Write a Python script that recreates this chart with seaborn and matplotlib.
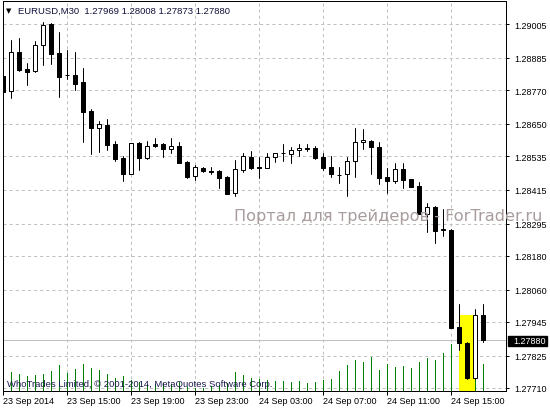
import matplotlib
matplotlib.use("Agg")
import numpy as np
import pandas as pd
import matplotlib.pyplot as plt
from matplotlib.patches import Rectangle
import seaborn as sns

# ---------------- data ----------------
symbol = "EURUSD,M30"
x_tick_labels = ["23 Sep 2014", "23 Sep 15:00", "23 Sep 19:00", "23 Sep 23:00",
                 "24 Sep 03:00", "24 Sep 07:00", "24 Sep 11:00", "24 Sep 15:00"]
x_tick_bars = [0, 8, 16, 24, 32, 40, 48, 56]
y_tick_values = [1.29005, 1.28885, 1.28770, 1.28650, 1.28535, 1.28415,
                 1.28295, 1.28180, 1.28060, 1.27945, 1.27825, 1.27710]

opens = [1.28820, 1.28766, 1.28905, 1.28845, 1.28837, 1.28931, 1.29005, 1.28902, 1.28824, 1.28824,
         1.28799, 1.28696, 1.28634, 1.28646, 1.28578, 1.28528, 1.28472, 1.28582, 1.28529, 1.28578,
         1.28578, 1.28562, 1.28570, 1.28514, 1.28463, 1.28493, 1.28481, 1.28482, 1.28461, 1.28404,
         1.28487, 1.28532, 1.28495, 1.28494, 1.28531, 1.28546, 1.28541, 1.28556, 1.28565, 1.28564,
         1.28532, 1.28496, 1.28469, 1.28470, 1.28517, 1.28584, 1.28588, 1.28566, 1.28460, 1.28445,
         1.28488, 1.28454, 1.28429, 1.28328, 1.28354, 1.28276, 1.28273, 1.27927, 1.27869, 1.27744,
         1.27969]
highs = [1.28863, 1.28948, 1.28955, 1.28865, 1.28943, 1.29012, 1.29008, 1.28977, 1.28914, 1.28905,
         1.28849, 1.28703, 1.28661, 1.28667, 1.28590, 1.28535, 1.28583, 1.28586, 1.28589, 1.28599,
         1.28581, 1.28599, 1.28584, 1.28519, 1.28503, 1.28495, 1.28495, 1.28485, 1.28463, 1.28521,
         1.28547, 1.28553, 1.28531, 1.28547, 1.28547, 1.28578, 1.28568, 1.28578, 1.28578, 1.28570,
         1.28547, 1.28536, 1.28495, 1.28531, 1.28635, 1.28630, 1.28591, 1.28585, 1.28492, 1.28509,
         1.28509, 1.28455, 1.28442, 1.28368, 1.28356, 1.28348, 1.28276, 1.28009, 1.27872, 1.27990,
         1.28008]
lows = [1.28732, 1.28742, 1.28839, 1.28789, 1.28833, 1.28860, 1.28863, 1.28746, 1.28809, 1.28770,
        1.28586, 1.28544, 1.28551, 1.28558, 1.28517, 1.28448, 1.28471, 1.28487, 1.28526, 1.28566,
        1.28533, 1.28547, 1.28510, 1.28458, 1.28450, 1.28480, 1.28471, 1.28423, 1.28400, 1.28392,
        1.28480, 1.28490, 1.28458, 1.28492, 1.28515, 1.28519, 1.28512, 1.28536, 1.28552, 1.28526,
        1.28486, 1.28460, 1.28441, 1.28392, 1.28460, 1.28559, 1.28472, 1.28435, 1.28403, 1.28438,
        1.28420, 1.28424, 1.28328, 1.28264, 1.28227, 1.28252, 1.27923, 1.27845, 1.27742, 1.27743,
        1.27873]
closes = [1.28764, 1.28904, 1.28841, 1.28835, 1.28929, 1.29001, 1.28898, 1.28818, 1.28822, 1.28793,
          1.28693, 1.28636, 1.28649, 1.28576, 1.28526, 1.28472, 1.28582, 1.28529, 1.28570, 1.28571,
          1.28561, 1.28570, 1.28512, 1.28462, 1.28495, 1.28483, 1.28480, 1.28458, 1.28401, 1.28489,
          1.28535, 1.28494, 1.28494, 1.28532, 1.28545, 1.28547, 1.28557, 1.28563, 1.28560, 1.28529,
          1.28494, 1.28470, 1.28468, 1.28517, 1.28584, 1.28591, 1.28566, 1.28458, 1.28445, 1.28488,
          1.28449, 1.28426, 1.28329, 1.28354, 1.28270, 1.28272, 1.27924, 1.27869, 1.27744, 1.27969,
          1.27880]
tick_volumes = [15, 19, 17, 15, 16, 17, 20, 26, 18, 22,
                27, 23, 21, 17, 13, 15, 11, 9, 7, 7,
                8, 7, 9, 4, 3, 3, 5, 6, 8, 19,
                16, 13, 12, 11, 10, 10, 9, 10, 8, 9,
                11, 12, 20, 26, 31, 29, 34, 21, 27, 24,
                25, 23, 29, 33, 31, 38, 47, 40, 48, 37,
                27]
bid_price = 1.27880
highlight_bars = [57, 59]
highlight_top = 1.27969
watermark = "Портал для трейдеров - ForTrader.ru"
copyright_text = "WhoTrades Limited, © 2001-2014, MetaQuotes Software Corp."

# ---------------- style ----------------
sns.set_theme(style="white")
plt.rcParams['font.family'] = ['Liberation Sans', 'DejaVu Sans']
plt.rcParams['lines.scale_dashes'] = False

W, H = 550, 410
fig = plt.figure(figsize=(W / 100, H / 100), dpi=100)
fig.patch.set_facecolor('white')
ax_l, ax_r, ax_t, ax_b = 2.7, 506.0, 2.0, 392.0
ax = fig.add_axes([ax_l / W, (H - ax_b) / H, (ax_r - ax_l) / W, (ax_b - ax_t) / H])
ax.set_facecolor('white')

n = len(opens)
df = pd.DataFrame({"bar": np.arange(n), "open": opens, "high": highs,
                   "low": lows, "close": closes, "vol": tick_volumes})
df["up"] = df["close"] >= df["open"]

px = 0.72  # one pixel in points
grid_color = '#c0c0c0'

# grid
for v in y_tick_values:
    ax.axhline(v, color=grid_color, lw=px, dashes=(2.2, 2.2), zorder=0.5)
for b in x_tick_bars[1:]:
    ax.axvline(b, color=grid_color, lw=px, dashes=(2.2, 2.2), zorder=0.5)

# bid line
ax.axhline(bid_price, color=grid_color, lw=px, zorder=1)

# volumes (bottom of chart)
vol_scale = 390.0
ax.vlines(df["bar"], 0, df["vol"] / vol_scale, transform=ax.get_xaxis_transform(),
          color='#008000', lw=px, antialiased=False, zorder=1.5)

# highlight rectangle
ylo = 1.27699
ax.add_patch(Rectangle((highlight_bars[0], ylo), highlight_bars[1] - highlight_bars[0],
                       highlight_top - ylo, facecolor='#ffff00', edgecolor='none', zorder=2))

# wicks via seaborn
wick = pd.DataFrame({"bar": np.repeat(df["bar"].values, 2),
                     "price": np.column_stack([df["low"], df["high"]]).ravel()})
sns.lineplot(data=wick, x="bar", y="price", units="bar", estimator=None, sort=False,
             color='black', lw=px, ax=ax, zorder=3)

# bodies
body_bottom = np.minimum(df["open"], df["close"])
body_h = np.maximum((df["close"] - df["open"]).abs(), 0.000004)
ax.bar(df["bar"], body_h, bottom=body_bottom, width=0.55,
       color=np.where(df["up"], 'white', 'black'), edgecolor='black', linewidth=px, zorder=4)

# limits
ax.set_xlim(-0.075, 62.84)
ax.set_ylim(1.27699, 1.29087)
ax.set_xlabel("")
ax.set_ylabel("")

# spines
for s in ax.spines.values():
    s.set_color('black')
    s.set_linewidth(px)
    s.set_visible(True)

# ticks
fs = 6.5
ax.yaxis.tick_right()
ax.set_yticks(y_tick_values)
ax.set_yticklabels([f"{v:.5f}" for v in y_tick_values], fontsize=fs, color='black')
ax.tick_params(axis='y', which='major', right=True, left=False, length=2.2, width=px,
               color='black', pad=3.6, direction='out')
ax.set_xticks(x_tick_bars)
ax.set_xticklabels(x_tick_labels, fontsize=fs, color='black', ha='left')
ax.tick_params(axis='x', which='major', bottom=True, length=3.2, width=px,
               color='black', pad=0.6, direction='out')
for lbl in ax.get_xticklabels():
    lbl.set_horizontalalignment('left')

# bid price label box on scale
fig.patches.append(Rectangle((508 / W, (H - 346.5) / H), 39 / W, 10 / H,
                             transform=fig.transFigure, facecolor='black',
                             edgecolor='black', zorder=5))
fig.text(513.5 / W, (H - 341.5) / H, f"{bid_price:.5f}", color='white', fontsize=fs,
         ha='left', va='center', zorder=6)

# header
fig.text(6 / W, (H - 11) / H, "▼", fontsize=5, color='black', ha='left', va='center',
         family=['DejaVu Sans'])
fig.text(18 / W, (H - 11) / H,
         f"{symbol}  {opens[-1]:.5f} {highs[-1]:.5f} {lows[-1]:.5f} {closes[-1]:.5f}",
         fontsize=6.8, color='#10103a', ha='left', va='center')

# watermark (drawn over the chart)
fig.text(234 / W, (H - 221.5) / H, watermark, fontsize=11.6, color='#a89c9c',
         ha='left', va='baseline', zorder=10, family=['DejaVu Sans'])

# copyright
fig.text(7 / W, (H - 385) / H, copyright_text, fontsize=6.8, color='#1a1a50',
         ha='left', va='center', zorder=10)

fig.savefig("out.png", dpi=100, facecolor='white')
